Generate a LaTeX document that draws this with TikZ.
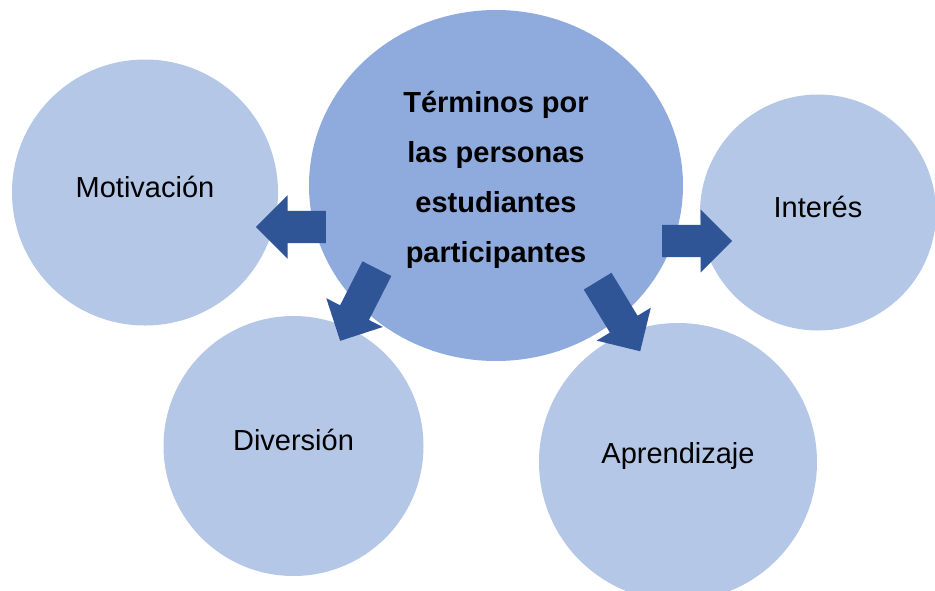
\documentclass[tikz,border=0pt]{standalone}
\usepackage{fontspec}
\setmainfont{Liberation Sans}
\usetikzlibrary{shapes,positioning}
\definecolor{centerblue}{HTML}{8FAADC}
\definecolor{lightblue}{HTML}{B4C7E7}
\definecolor{arrowblue}{HTML}{2F5597}
\tikzstyle{bubble}=[circle, fill=lightblue, inner sep=0pt]
\tikzstyle{caption}=[inner sep=0pt, yshift=6pt, align=center, font=\fontsize{29pt}{50pt}\selectfont]
\tikzstyle{core}=[ellipse, fill=centerblue, inner sep=0pt]
\tikzstyle{blockarrow}=[single arrow, fill=arrowblue, inner sep=0pt, inner ysep=16pt, single arrow head extend=15.5pt, anchor=tail]

\begin{document}
\begin{tikzpicture}[x=1pt,y=-1pt]
            \useasboundingbox (0,0) rectangle (935,590);

            \node[core, minimum width=374pt, minimum height=351pt,
                  label={[caption, font=\fontsize{29pt}{50pt}\selectfont\bfseries]center:T\'erminos por\\las personas\\estudiantes\\participantes}]
                  (terminos) at (496,185.5) {};

            \begin{scope}[every node/.style={bubble}]
                \node[minimum size=266pt, label={[caption]center:Motivaci\'on}] (motivacion) at (145,192.5) {};
                \node[minimum size=260pt, label={[caption]center:Diversi\'on}] (diversion) at (293.5,446) {};
                \node[minimum size=278pt, label={[caption]center:Aprendizaje}] (aprendizaje) at (678,462) {};
                \node[minimum size=236pt, label={[caption]center:Inter\'es}] (interes) at (818,212.5) {};
            \end{scope}

            \begin{scope}[every node/.style={blockarrow}]
                \node[minimum height=70pt, rotate=180] (a1) at (326,227) {};
                \node[minimum height=70pt, rotate=0] (a2) at (662,241) {};
                \node[minimum height=81pt, rotate=-117] (a3) at (377,268.5) {};
                \node[minimum height=82pt, rotate=-58.7] (a4) at (597.5,281) {};
            \end{scope}
        \end{tikzpicture}
\end{document}
